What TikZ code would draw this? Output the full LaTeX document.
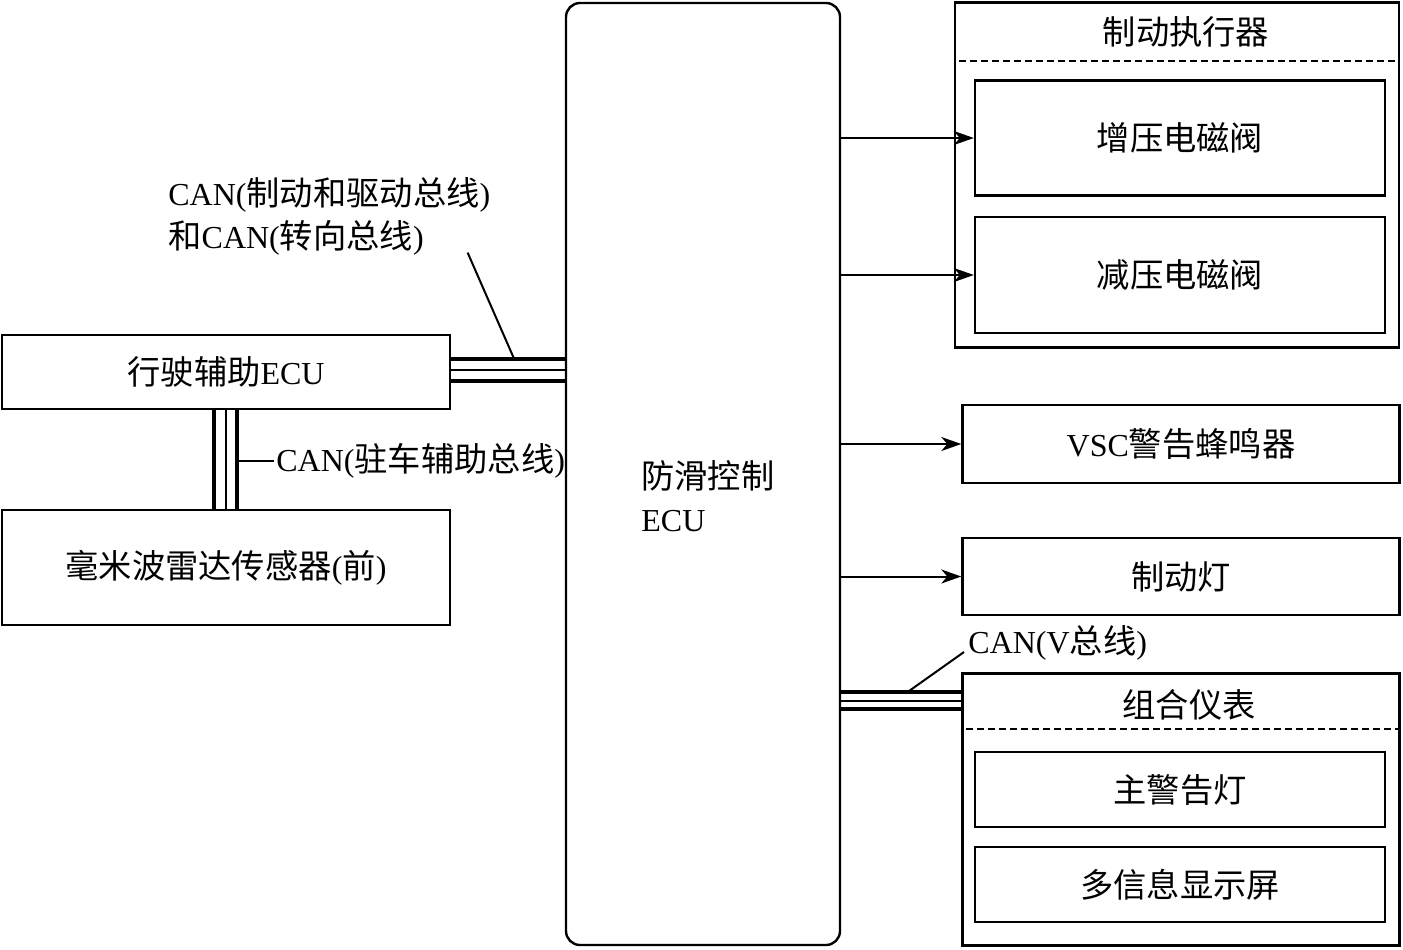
\documentclass[tikz,border=0pt]{standalone}
\usepackage{fontspec}
\setmainfont{Liberation Serif}
\newfontfamily\cjk[Scale=1.04]{Noto Sans CJK SC}
\newcommand{\zh}[1]{{\cjk #1}}
\newcommand{\labelfont}{\fontsize{16pt}{21.5pt}\selectfont}
\usetikzlibrary{calc,arrows.meta}

\tikzset{
  unit/.style={rectangle,draw,line width=1.2pt,inner sep=0pt},
  arr/.style={line width=1pt,-{Stealth[length=10pt,width=7pt,inset=3pt]}},
  lead/.style={line width=1pt},
  sep/.style={line width=1pt,dash pattern=on 3.5pt off 2pt},
}

\begin{document}
\begin{tikzpicture}[x=0.5pt,y=-0.5pt,every node/.style={font=\labelfont}]
\useasboundingbox (0,0) rectangle (1403,949);

% left side
\node[unit,minimum width=224pt,minimum height=37pt] (drive) at (226,372) {\zh{行驶辅助}ECU};
\node[unit,minimum width=224pt,minimum height=57.5pt] (radar) at (226,567.5) {\zh{毫米波雷达传感器}(\zh{前})};

% center
\node[unit,rounded corners=7pt,minimum width=137pt,minimum height=471pt] (ecu) at (703,474) {};
\node[anchor=west,align=left,inner sep=0pt] (ecuT) at (641,496) {\zh{防滑控制}\\ECU};

% right side
\node[unit,minimum width=222pt,minimum height=172.5pt] (act) at (1177,175) {};
\node (actT) at ($(act.north)+(9,31)$) {\zh{制动执行器}};
\draw[sep] ($(act.north west)+(5,60)$) -- ($(act.north east)+(0,60)$);
\node[unit,minimum width=205pt,minimum height=57.5pt] (inc) at (1180,138) {\zh{增压电磁阀}};
\node[unit,minimum width=205pt,minimum height=58pt] (dec) at (1180,275) {\zh{减压电磁阀}};

\node[unit,minimum width=218.5pt,minimum height=39pt] (vsc) at (1181,444) {VSC\zh{警告蜂鸣器}};
\node[unit,minimum width=218.5pt,minimum height=38.5pt] (lamp) at (1181,576.5) {\zh{制动灯}};

\node[unit,minimum width=218.5pt,minimum height=136pt] (meter) at (1181,809.5) {};
\node (meterT) at ($(meter.north)+(8,33)$) {\zh{组合仪表}};
\draw[sep] ($(meter.north west)+(5,57)$) -- ($(meter.north east)+(0,57)$);
\node[unit,minimum width=205pt,minimum height=37.5pt] (warn) at (1180,789.5) {\zh{主警告灯}};
\node[unit,minimum width=205pt,minimum height=37.5pt] (mid) at (1180,884.5) {\zh{多信息显示屏}};

% outputs
\draw[arr] (ecu.east |- inc.west) -- (inc.west);
\draw[arr] (ecu.east |- dec.west) -- (dec.west);
\draw[arr] (ecu.east |- vsc.west) -- (vsc.west);
\draw[arr] (ecu.east |- lamp.west) -- (lamp.west);

% CAN buses
\foreach \d/\w in {-11/2pt,0/1pt,11/2pt}
  \draw[line width=\w] ($(drive.east)+(0,\d-2)$) -- ($(drive.east -| ecu.west)+(0,\d-2)$);
\foreach \d/\w in {-12/2pt,0/1pt,11/2pt}
  \draw[line width=\w] ($(drive.south)+(\d,0)$) -- ($(radar.north)+(\d,0)$);
\foreach \d/\w in {20/2pt,28.5/1pt,37/2pt}
  \draw[line width=\w] ($(meter.north west)+(0,\d)$) -- ($(meter.north west -| ecu.east)+(0,\d)$);

% bus labels
\node[anchor=north west,align=left,inner sep=0pt] (canA) at (168,177) {CAN(\zh{制动和驱动总线})\\\zh{和}CAN(\zh{转向总线})};
\coordinate (busAtap) at ($(drive.east)+(63,-13)$);
\draw[lead] ($(canA.south east)+(-23,-3)$) -- (busAtap);

\node[anchor=west,inner sep=1pt] (canB) at (274,461) {CAN(\zh{驻车辅助总线})};
\coordinate (busBr) at ($(drive.south)+(11,0)$);
\draw[lead] (canB.west) -- (canB.west -| busBr);

\node[anchor=west,inner sep=0pt] (canV) at (968,643) {CAN(V\zh{总线})};
\coordinate (busVtap) at ($(meter.north west -| ecu.east)+(66,20)$);
\draw[lead] ($(canV.west)+(-4,9)$) -- (busVtap);

\end{tikzpicture}
\end{document}
